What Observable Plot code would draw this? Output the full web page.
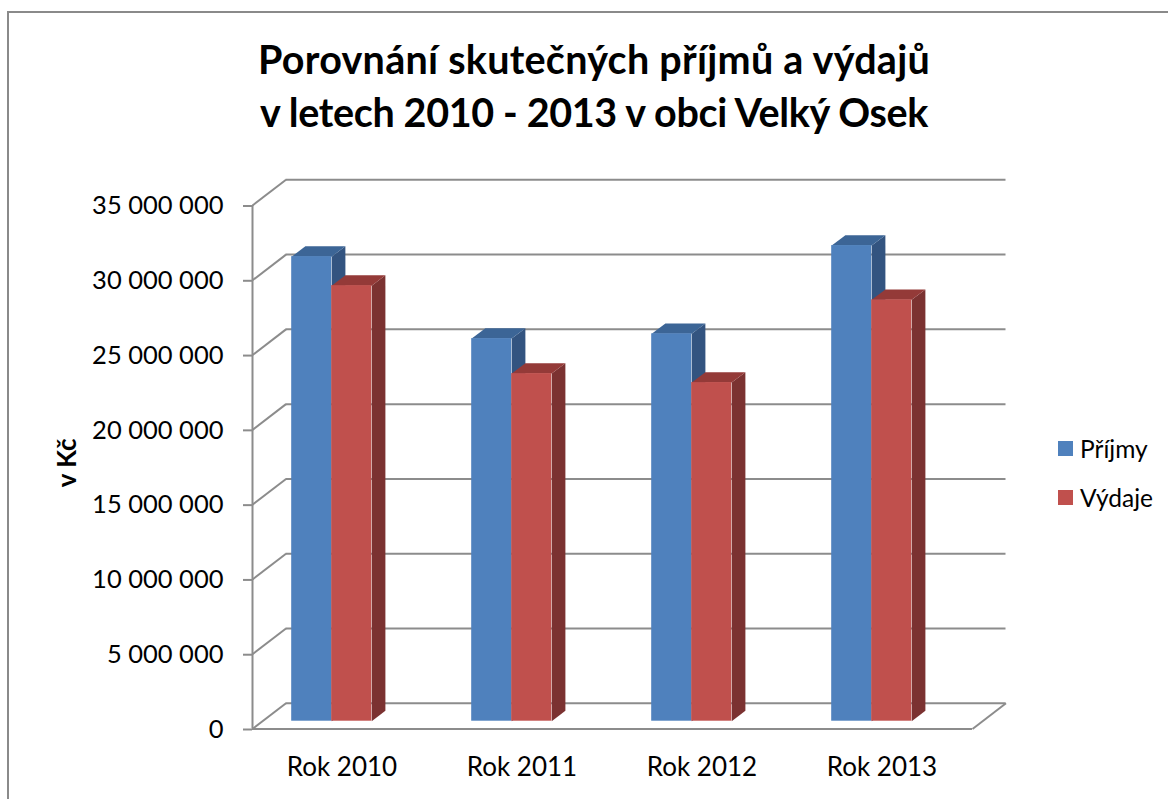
<!DOCTYPE html>
<html lang="cs">
<head>
<meta charset="utf-8">
<script src="https://cdn.jsdelivr.net/npm/d3@7"></script>
<script src="https://cdn.jsdelivr.net/npm/@observablehq/plot@0.6"></script>
<style>
  html, body { margin: 0; padding: 0; background: #fff; overflow: hidden; }
  #page { position: relative; width: 1168px; height: 799px; overflow: hidden; font-family: Lato, sans-serif; color: #000; }
  #frame { position: absolute; left: 7px; top: 11px; width: 1300px; height: 1000px; border: 2px solid #8a8a8a; box-sizing: border-box; }
  #title { position: absolute; left: 94px; width: 1000px; top: 32px; margin: 0; text-align: center; font-size: 39.5px; line-height: 53px; font-weight: 700; white-space: nowrap; }
  #title .l1 { letter-spacing: 0.26px; }
  #title .l2 { letter-spacing: -0.35px; }
  #legend { position: absolute; left: 1058px; top: 431px; font-size: 24.5px; }
  #legend div { position: relative; height: 48.5px; line-height: 36px; padding-left: 22px; white-space: nowrap; }
  #legend i { position: absolute; left: 0; top: 10px; width: 15px; height: 15px; }
  #chart { position: absolute; left: 0; top: 0; }
  #chart svg { background: transparent; }
</style>
</head>
<body>
<div id="page">
  <div id="chart"></div>
  <div id="frame"></div>
  <h1 id="title"><span class="l1">Porovnání skutečných příjmů a výdajů</span><br><span class="l2">v letech 2010 - 2013 v obci Velký Osek</span></h1>
  <div id="legend"></div>
</div>
<script>
const categories = ["Rok 2010", "Rok 2011", "Rok 2012", "Rok 2013"];
const prijmy = [31060000, 25580000, 25900000, 31800000];
const vydaje = [29120000, 23240000, 22640000, 28170000];
const seriesNames = ["Příjmy", "Výdaje"];
const yTicks = [0, 5e6, 10e6, 15e6, 20e6, 25e6, 30e6, 35e6];

const colors = {
  "Příjmy": {front: "#4f81bd", side: "#335480", top: "#3c6596"},
  "Výdaje": {front: "#c0504d", side: "#7b3231", top: "#943a38"}
};
const gray = "#8c8c8c";

// 3D look: depth expressed in the scales' own units
const pxX = 1 / 180, pxY = 5e6 / 74.8;
const wallX = 33.5 * pxX, wallY = 25.7 * pxY;
const depthX = 13.7 * pxX, depthY = 10.4 * pxY;
const groupStart = 39.2 * pxX, barW = 40 * pxX;
const floorDy = -7.8;

function fmt(v) { return d3.format(",")(v).replace(/,/g, " "); }

function faces(name, values, seriesIndex) {
  const bars = values.map((v, i) => {
    const x1 = i + groupStart + seriesIndex * barW;
    return {name, v, x1, x2: x1 + barW};
  });
  const side = bars.flatMap((b, i) => [
    {id: i, x: b.x2, y: 0},
    {id: i, x: b.x2 + depthX, y: depthY},
    {id: i, x: b.x2 + depthX, y: b.v + depthY},
    {id: i, x: b.x2, y: b.v}
  ]);
  const top = bars.flatMap((b, i) => [
    {id: i, x: b.x1, y: b.v},
    {id: i, x: b.x1 + depthX, y: b.v + depthY},
    {id: i, x: b.x2 + depthX, y: b.v + depthY},
    {id: i, x: b.x2, y: b.v}
  ]);
  const c = colors[name];
  return [
    Plot.line(side, {x: "x", y: "y", z: "id", fill: c.side, stroke: "none", dy: floorDy}),
    Plot.line(top, {x: "x", y: "y", z: "id", fill: c.top, stroke: "none", dy: floorDy}),
    Plot.rect(bars, {x1: "x1", x2: "x2", y1: () => 0, y2: "v", fill: c.front, dy: floorDy})
  ];
}

const chart = Plot.plot({
  width: 1168,
  height: 799,
  marginLeft: 252,
  marginRight: 196,
  marginTop: 205,
  marginBottom: 70.5,
  style: {fontFamily: "Lato, sans-serif", background: "transparent", color: "#000"},
  x: {type: "linear", domain: [0, 4], axis: null},
  y: {domain: [0, 35e6], axis: null},
  marks: [
    // back wall gridlines
    Plot.ruleY(yTicks, {x1: 0, x2: 4, dx: 33.5, dy: -25.7, stroke: gray, strokeWidth: 2}),
    // side wall diagonals
    Plot.link(yTicks, {x1: 0, y1: d => d, x2: wallX, y2: d => d + wallY, stroke: gray, strokeWidth: 2}),
    // floor
    Plot.ruleY([0], {x1: 0, x2: 4, stroke: gray, strokeWidth: 2}),
    Plot.link([0], {x1: 4, y1: 0, x2: 4 + wallX, y2: wallY, stroke: gray, strokeWidth: 2}),
    // vertical axis line and ticks
    Plot.ruleX([0], {y1: 0, y2: 35e6, stroke: gray, strokeWidth: 2}),
    Plot.axisY({ticks: yTicks, tickSize: 9, tickPadding: 20, tickFormat: fmt, stroke: gray, strokeWidth: 2, fontSize: 25.5, textStroke: "none", label: null, dy: 0.5}),
    // bars
    ...faces(seriesNames[0], prijmy, 0),
    ...faces(seriesNames[1], vydaje, 1),
    // category labels
    Plot.text(categories, {x: (d, i) => i + 0.5, y: () => 0, text: d => d, dy: 39, dx: -0.5, fontSize: 26, fill: "#000"}),
    // axis title
    Plot.text(["v Kč"], {x: () => 0, y: () => 17.8e6, text: d => d, dx: -185, rotate: -90, fontSize: 26, fontWeight: 700, fill: "#000"})
  ]
});
document.getElementById("chart").appendChild(chart);

const legend = document.getElementById("legend");
seriesNames.forEach(name => {
  const row = document.createElement("div");
  const sw = document.createElement("i");
  sw.style.background = colors[name].front;
  row.appendChild(sw);
  row.appendChild(document.createTextNode(name));
  legend.appendChild(row);
});
</script>
</body>
</html>
